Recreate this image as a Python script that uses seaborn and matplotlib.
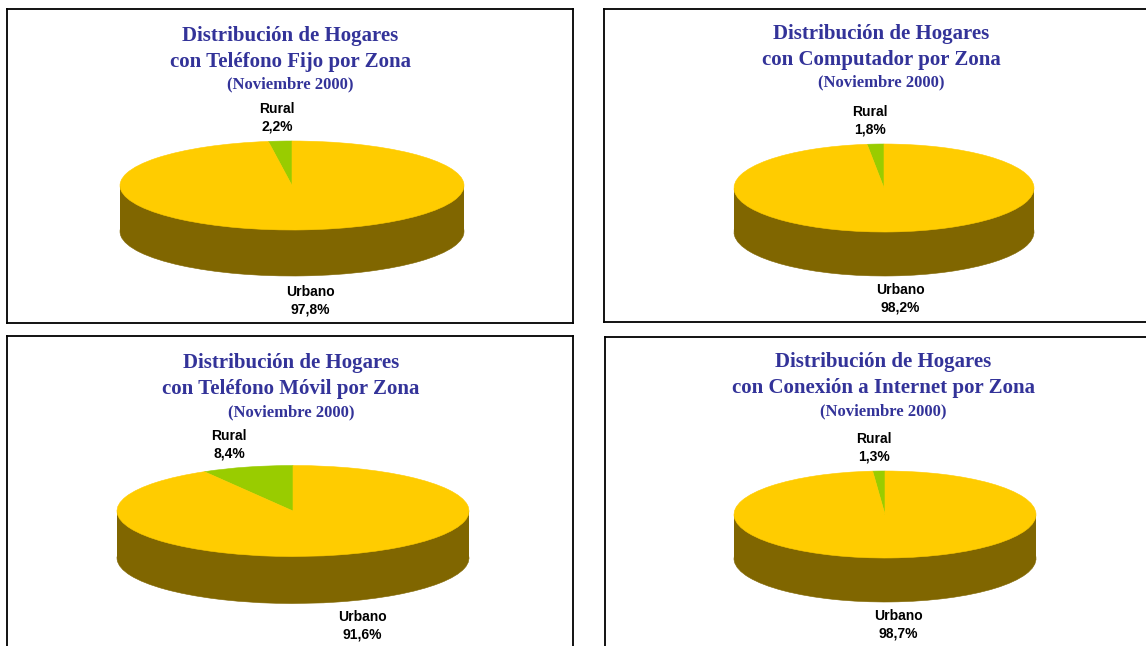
import matplotlib
matplotlib.use("Agg")
import matplotlib.pyplot as plt
import seaborn as sns

# Data
title_top = "Distribución de Hogares"
title_bottom = ["con Teléfono Fijo por Zona", "con Computador por Zona",
                "con Teléfono Móvil por Zona", "con Conexión a Internet por Zona"]
subtitle = "(Noviembre 2000)"
zones = ["Rural", "Urbano"]
rural = [2.2, 1.8, 8.4, 1.3]
urbano = [97.8, 98.2, 91.6, 98.7]

sns.set_style("white")

W, H = 1146, 646
fig = plt.figure(figsize=(W / 100, H / 100), dpi=100)
fig.patch.set_facecolor("white")

top_col = "#FFCC00"
side_col = "#806600"
rural_col = "#99CC00"
title_col = "#333399"


def fx(x):
    return x / W


def fy(y):
    return 1 - y / H


# layout in pixels: panel box, pie (cx, cy, a, b, depth), title y's, label spots
panels = [(7, 9, 573, 323), (604, 9, 1152, 322), (7, 336, 573, 652), (605, 337, 1152, 652)]
pies = [(292, 185.5, 172, 44.5, 46), (884, 188, 150, 44, 44),
        (293, 511, 176, 45.5, 47), (885, 514.5, 151, 43.5, 44)]
title_y = [(36, 62, 84), (34, 60, 82), (363, 389, 412), (362, 388, 411)]
title_x = [290, 881, 291, 883]
rural_pos = [(277, 118), (870, 121), (229, 445), (874, 448)]
urb_pos = [(310, 301), (900, 299), (362, 626), (898, 625)]

for i in range(4):
    x0, y0, x1, y1 = panels[i]
    frame = fig.add_axes([fx(x0), fy(y1), fx(x1 - x0), (y1 - y0) / H])
    frame.set_xticks([])
    frame.set_yticks([])
    for s in frame.spines.values():
        s.set_color("black")
        s.set_linewidth(1.3)
    frame.set_facecolor("white")

    cx, cy, a, b, depth = pies[i]
    d = depth / b
    ax = fig.add_axes([fx(cx - a), fy(cy + b + depth), fx(2 * a), (2 * b + depth) / H])
    vals = [rural[i], urbano[i]]
    # side (extrusion)
    side, _ = ax.pie(vals, colors=[side_col, side_col], startangle=90,
                     center=(0, -d), radius=1, frame=False)
    ax.fill_between([-1, 1], -d, 0, color=side_col, linewidth=0)
    # top face
    wedges, _ = ax.pie(vals, colors=[rural_col, top_col], startangle=90,
                       counterclock=True, center=(0, 0), radius=1, frame=False)
    for w in list(side) + list(wedges):
        w.set_edgecolor(w.get_facecolor())
        w.set_linewidth(0.4)
        w.set_clip_on(False)
    ax.set_aspect("auto")
    ax.set_xlim(-1, 1)
    ax.set_ylim(-1 - d, 1)
    ax.axis("off")

    ty1, ty2, ty3 = title_y[i]
    for txt, ty, fs in [(title_top, ty1, 15), (title_bottom[i], ty2, 15), (subtitle, ty3, 12)]:
        fig.text(fx(title_x[i]), fy(ty), txt, ha="center", va="center",
                 family="Liberation Serif", fontweight="bold", fontsize=fs,
                 color=title_col)

    rx, ry = rural_pos[i]
    fig.text(fx(rx), fy(ry), f"{zones[0]}\n{rural[i]:.1f}%".replace(".", ","),
             ha="center", va="center", family="Liberation Sans", fontweight="bold",
             fontsize=10, linespacing=1.35, color="black")
    ux, uy = urb_pos[i]
    fig.text(fx(ux), fy(uy), f"{zones[1]}\n{urbano[i]:.1f}%".replace(".", ","),
             ha="center", va="center", family="Liberation Sans", fontweight="bold",
             fontsize=10, linespacing=1.35, color="black")

fig.savefig("out.png", dpi=100, facecolor="white")
